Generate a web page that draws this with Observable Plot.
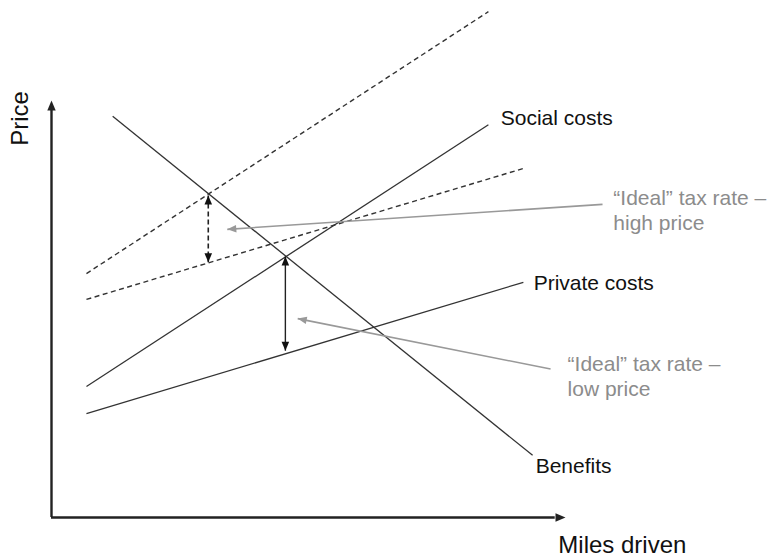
<!DOCTYPE html>
<html>
<head>
<meta charset="utf-8">
<script src="https://cdn.jsdelivr.net/npm/d3@7"></script>
<script src="https://cdn.jsdelivr.net/npm/@observablehq/plot@0.6"></script>
<style>
  html, body { margin: 0; padding: 0; background: #fff; }
</style>
</head>
<body>
<div id="chart"></div>
<script>
// ---- Data (in chart units: miles 0–100, price 0–100) ----
const curveNames   = ["Benefits", "Social costs", "Private costs"];
const curveStartX  = [11.9, 6.8, 6.8];
const curveStartY  = [96.2, 31.4, 24.9];
const curveEndX    = [93.6, 85.0, 91.8];
const curveEndY    = [14.9, 94.2, 56.4];

const taxedNames   = ["Social costs + tax", "Private costs + tax"];
const taxedStartX  = [6.8, 6.8];
const taxedStartY  = [58.5, 52.3];
const taxedEndX    = [85.0, 91.8];
const taxedEndY    = [121.3, 83.7];

const curveLabelX  = [94.2, 87.4, 93.8];
const curveLabelY  = [12.3, 95.7, 56.1];

// tax gaps: high price (dashed) and low price (solid)
const gapNames   = ["high price", "low price"];
const gapX       = [30.5, 45.5];
const gapTop     = [77.2, 62.6];
const gapBottom  = [61.2, 40.0];

// callouts
const calloutText  = ["\u201CIdeal\u201D tax rate \u2013\nhigh price", "\u201CIdeal\u201D tax rate \u2013\nlow price"];
const calloutX     = [109.3, 100.4];
const calloutY     = [73.9, 34.1];
const pointerFromX = [107.2, 97.1];
const pointerFromY = [75.1, 35.6];
const pointerToX   = [34.2, 47.9];
const pointerToY   = [69.1, 47.7];

const axisTitles = ["Price", "Miles driven"];
const axisMax = 100;

// ---- Build tables ----
const curves = curveNames.map((name, i) => ({name, x1: curveStartX[i], y1: curveStartY[i], x2: curveEndX[i], y2: curveEndY[i], lx: curveLabelX[i], ly: curveLabelY[i]}));
const taxed = taxedNames.map((name, i) => ({name, x1: taxedStartX[i], y1: taxedStartY[i], x2: taxedEndX[i], y2: taxedEndY[i]}));
const gaps = gapNames.map((name, i) => ({name, x: gapX[i], top: gapTop[i], bottom: gapBottom[i]}));
const callouts = calloutText.map((text, i) => ({text, x: calloutX[i], y: calloutY[i], x1: pointerFromX[i], y1: pointerFromY[i], x2: pointerToX[i], y2: pointerToY[i]}));

// filled triangular head, tip at origin, pointing up
const head = {
  draw(ctx, size) {
    const k = Math.sqrt(size / Math.PI);
    ctx.moveTo(0, 0);
    ctx.lineTo(-0.42 * k, k);
    ctx.lineTo(0.42 * k, k);
    ctx.closePath();
  }
};

const dark = "#333";
const grey = "#8c8c8c";
const font = "'Liberation Sans', Arial, sans-serif";

const chart = Plot.plot({
  width: 770,
  height: 557,
  x: {domain: [0, axisMax], range: [51, 565], axis: null},
  y: {domain: [0, axisMax], range: [517, 100], axis: null},
  style: {fontFamily: font, background: "#fff", overflow: "visible"},
  marks: [
    // axes
    Plot.ruleX([0], {y1: 0, y2: axisMax - 2, stroke: "#222", strokeWidth: 2.4}),
    Plot.ruleY([0], {x1: 0, x2: axisMax - 2, stroke: "#222", strokeWidth: 2.4}),
    Plot.dot([{x: 0, y: axisMax}], {x: "x", y: "y", symbol: head, r: 10, fill: "#222", stroke: "none"}),
    Plot.dot([{x: axisMax, y: 0}], {x: "x", y: "y", symbol: head, r: 10, rotate: 90, fill: "#222", stroke: "none"}),
    Plot.text([axisTitles[0]], {x: -6.0, y: 95.7, text: d => d, rotate: -90, fontSize: 24, fill: "#111", textAnchor: "middle"}),
    Plot.text([axisTitles[1]], {x: 98.6, y: -6.6, text: d => d, fontSize: 24, fill: "#111", textAnchor: "start"}),

    // curves
    Plot.link(curves, {x1: "x1", y1: "y1", x2: "x2", y2: "y2", stroke: dark, strokeWidth: 1.3}),
    Plot.link(taxed, {x1: "x1", y1: "y1", x2: "x2", y2: "y2", stroke: dark, strokeWidth: 1.4, strokeDasharray: "5,3.5"}),
    Plot.text(curves, {x: "lx", y: "ly", text: "name", fontSize: 21, fill: "#111", textAnchor: "start"}),

    // tax gap arrows
    Plot.link(gaps.slice(0, 1), {x: "x", y1: "top", y2: "bottom", stroke: "#222", strokeWidth: 1.6, strokeDasharray: "5,3"}),
    Plot.link(gaps.slice(1), {x: "x", y1: "top", y2: "bottom", stroke: "#222", strokeWidth: 1.4}),
    Plot.dot(gaps, {x: "x", y: "top", symbol: head, r: 9, fill: "#111", stroke: "none"}),
    Plot.dot(gaps, {x: "x", y: "bottom", symbol: head, r: 9, rotate: 180, fill: "#111", stroke: "none"}),

    // callout pointers
    Plot.link(callouts, {x1: "x1", y1: "y1", x2: "x2", y2: "y2", stroke: "#999", strokeWidth: 1.6}),
    Plot.dot(callouts.slice(0, 1), {x: "x2", y: "y2", symbol: head, r: 9, rotate: -93.8, fill: "#999", stroke: "none"}),
    Plot.dot(callouts.slice(1), {x: "x2", y: "y2", symbol: head, r: 9, rotate: -78.6, fill: "#999", stroke: "none"}),
    Plot.text(callouts, {x: "x", y: "y", text: "text", fontSize: 21, fill: grey, textAnchor: "start", lineAnchor: "middle", lineHeight: 1.2})
  ]
});
document.getElementById("chart").appendChild(chart);
</script>
</body>
</html>
